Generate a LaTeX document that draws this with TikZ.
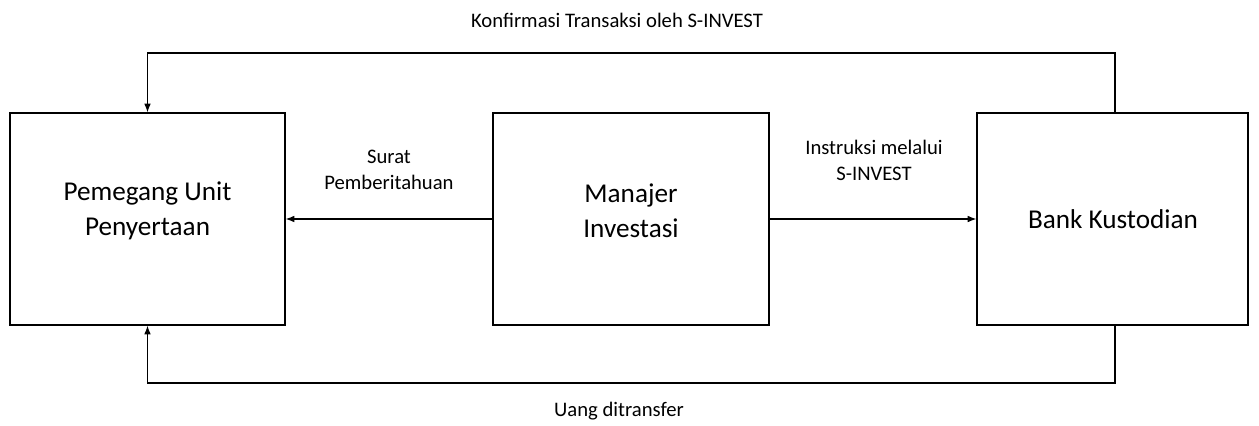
\documentclass[tikz,border=0pt]{standalone}
\usepackage{fontspec}
\setmainfont{Carlito}
\usetikzlibrary{arrows.meta}
\begin{document}
\begin{tikzpicture}[x=0.75pt,y=-0.75pt,
  box/.style={draw,line width=0.9pt,minimum height=159pt,inner sep=0pt},
  btxt/.style={align=center,inner sep=0pt,font=\fontsize{20.4}{26}\selectfont},
  conn/.style={line width=0.9pt,-{Latex[length=6.5pt,width=5pt]}},
  lbl/.style={align=center,font=\fontsize{15.5}{19.5}\selectfont,inner sep=0pt}]
\useasboundingbox (0,0) rectangle (1259,425);
\node[box,minimum width=206.25pt] (left) at (147.5,219) {};
\node[box,minimum width=207pt] (mid) at (631,219) {};
\node[box,minimum width=203.25pt] (right) at (1112.5,219) {};
\node[btxt] (lefttxt) at (147.5,211) {Pemegang Unit\\Penyertaan};
\node[btxt] (midtxt) at (631,211) {Manajer\\Investasi};
\node[btxt] (righttxt) at (1113,219) {Bank Kustodian};
\coordinate (tr) at (1115,53);
\coordinate (br) at (1115,383);
\draw[conn] (tr |- right.north) -- (tr) -| (left.north);
\draw[conn] (br |- right.south) -- (br) -| (left.south);
\draw[conn] (mid.west) -- (left.east);
\draw[conn] (mid.east) -- (right.west);
\node[lbl] (ltop) at (617,20) {Konfirmasi Transaksi oleh S-INVEST};
\node[lbl] (lbot) at (619,411) {Uang ditransfer};
\node[lbl] (lsurat) at (389,170) {Surat\\Pemberitahuan};
\node[lbl] (linst) at (874,160) {Instruksi melalui\\S-INVEST};
\end{tikzpicture}
\end{document}
